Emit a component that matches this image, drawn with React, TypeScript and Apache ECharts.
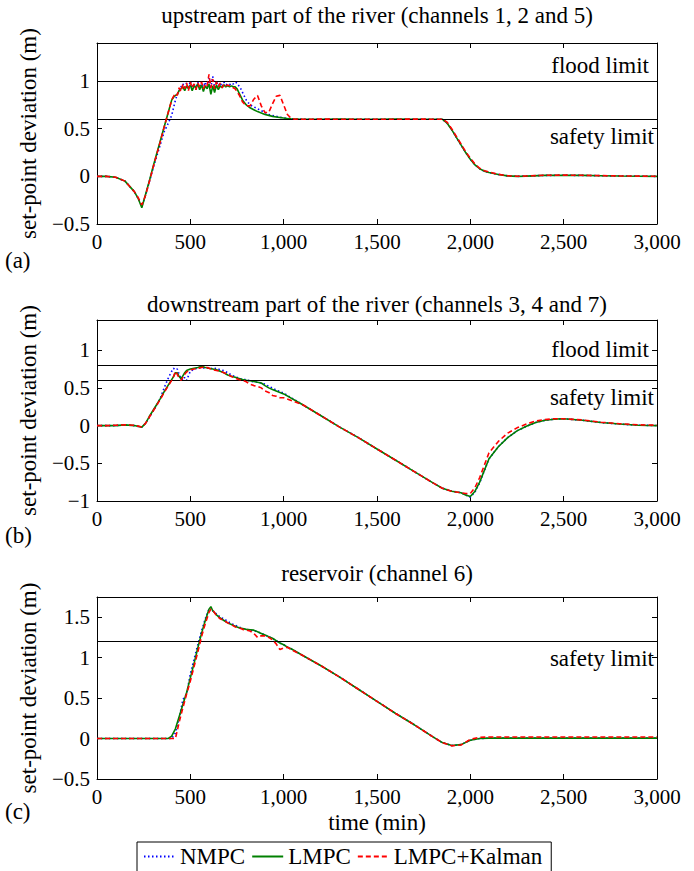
import React, { useEffect, useRef } from "react";
import * as echarts from "echarts";

// ---------- panel (a): upstream ----------
const T_A = [0, 50, 100, 150, 200, 220, 240, 260, 280, 300, 320, 340, 360, 380,
  400, 410, 420, 430, 440, 450, 460, 470, 480, 490, 500, 510, 520, 530, 540, 550, 560, 570, 580, 590, 600,
  610, 620, 630, 640, 650, 660, 670, 680, 690, 700, 710, 720, 730, 740, 750, 760, 770, 780,
  800, 820, 840, 860, 880, 900, 920, 940, 960, 980, 1000, 1020, 1040, 1060, 1080, 1100,
  1150, 1200, 1300, 1400, 1500, 1600, 1700, 1800,
  1850, 1875, 1900, 1925, 1950, 1975, 2000, 2025, 2050, 2075, 2100,
  2150, 2200, 2250, 2300,
  2400, 2500, 2600, 2700, 2800, 2900, 3000];
const NMPC_A = [0, 0, -0.01, -0.05, -0.16, -0.23, -0.31, -0.2, -0.06, 0.08, 0.21, 0.34, 0.47, 0.55,
  0.64, 0.72, 0.8, 0.86, 0.9, 0.94, 0.97, 0.93, 0.98, 0.92, 1.0, 0.93, 0.97, 0.91, 0.99, 0.93, 0.97, 0.94, 0.99, 0.92, 1.03,
  0.94, 1.05, 0.93, 1.0, 0.95, 0.98, 0.94, 0.99, 0.96, 0.97, 0.96, 0.98, 0.97, 0.99, 0.98, 0.95, 0.92, 0.88,
  0.8, 0.75, 0.73, 0.71, 0.69, 0.67, 0.65, 0.64, 0.63, 0.62, 0.614, 0.609, 0.605, 0.603, 0.601, 0.6,
  0.6, 0.6, 0.6, 0.6, 0.6, 0.6, 0.6, 0.6,
  0.6, 0.56, 0.49, 0.41, 0.33, 0.25, 0.18, 0.12, 0.08, 0.055, 0.04,
  0.02, 0.005, 0, 0.003,
  0.01, 0.012, 0.01, 0.007, 0.004, 0.002, 0];
const LMPC_A = [0, 0, -0.01, -0.05, -0.16, -0.23, -0.33, -0.19, -0.05, 0.1, 0.24, 0.38, 0.52, 0.66,
  0.8, 0.83, 0.85, 0.86, 0.9, 0.92, 0.94, 0.9, 0.95, 0.92, 0.96, 0.9, 0.95, 0.93, 0.97, 0.91, 0.96, 0.89, 0.95, 0.92, 0.97,
  0.86, 0.95, 0.88, 0.96, 0.91, 0.95, 0.93, 0.96, 0.94, 0.95, 0.94, 0.95, 0.94, 0.94, 0.92, 0.88, 0.84, 0.8,
  0.75, 0.72, 0.7, 0.68, 0.665, 0.65, 0.64, 0.63, 0.624, 0.618, 0.612, 0.608, 0.605, 0.603, 0.601, 0.6,
  0.6, 0.6, 0.601, 0.6, 0.599, 0.601, 0.6, 0.6,
  0.6, 0.56, 0.49, 0.41, 0.33, 0.25, 0.18, 0.12, 0.08, 0.055, 0.04,
  0.02, 0.005, 0, 0.003,
  0.01, 0.012, 0.01, 0.007, 0.004, 0.002, 0];
const KAL_A = [0, 0, -0.01, -0.05, -0.16, -0.22, -0.3, -0.2, -0.06, 0.09, 0.23, 0.37, 0.52, 0.66,
  0.8, 0.84, 0.87, 0.85, 0.93, 0.89, 0.97, 0.92, 0.98, 0.9, 0.99, 0.93, 0.97, 0.91, 0.98, 0.94, 0.99, 0.92, 0.97, 0.95, 1.07,
  0.93, 1.02, 0.92, 0.99, 0.94, 0.98, 0.93, 0.97, 0.95, 0.96, 0.95, 0.94, 0.93, 0.92, 0.89, 0.86, 0.82, 0.78,
  0.74, 0.74, 0.81, 0.85, 0.74, 0.67, 0.67, 0.76, 0.84, 0.85, 0.75, 0.65, 0.61, 0.6, 0.602, 0.6,
  0.6, 0.601, 0.6, 0.599, 0.6, 0.6, 0.601, 0.6,
  0.6, 0.57, 0.5, 0.42, 0.34, 0.26, 0.19, 0.13, 0.085, 0.06, 0.045,
  0.022, 0.006, 0.001, 0.004,
  0.012, 0.013, 0.011, 0.008, 0.005, 0.003, 0.001];

// ---------- panel (b): downstream ----------
const T_B = [0, 50, 100, 150, 200, 240,
  260, 280, 300, 320, 340, 360, 380, 400,
  410, 420, 430, 440, 450, 460, 470, 480, 490, 500,
  520, 540, 560, 580, 600, 620, 640, 660, 680, 700, 720, 740, 760, 780, 800, 820, 840, 860, 880, 900, 920, 940, 960, 980, 1000,
  1100, 1200, 1300, 1400, 1500, 1600, 1700, 1800,
  1850, 1900, 1950, 1975, 2000, 2025, 2050,
  2100, 2150, 2200, 2250, 2300, 2350, 2400, 2450, 2500,
  2600, 2700, 2800, 2900, 3000];
const NMPC_B = [0, 0, 0, 0.01, 0, -0.02,
  0.03, 0.11, 0.19, 0.27, 0.37, 0.5, 0.62, 0.72,
  0.76, 0.74, 0.75, 0.68, 0.62, 0.6, 0.64, 0.6, 0.66, 0.72,
  0.75, 0.76, 0.77, 0.76, 0.77, 0.75, 0.76, 0.74, 0.73, 0.7, 0.67, 0.65, 0.63, 0.61, 0.61, 0.59, 0.58, 0.575, 0.565, 0.55, 0.52, 0.5, 0.47, 0.45, 0.43,
  0.28, 0.13, -0.02, -0.16, -0.31, -0.46, -0.61, -0.76,
  -0.83, -0.87, -0.89, -0.92, -0.95, -0.88, -0.76,
  -0.44, -0.28, -0.16, -0.07, -0.01, 0.04, 0.07, 0.085, 0.09,
  0.07, 0.04, 0.02, 0.005, 0];
const LMPC_B = [0, 0, 0, 0.01, 0, -0.02,
  0.03, 0.12, 0.2, 0.28, 0.36, 0.45, 0.53, 0.61,
  0.65, 0.7, 0.7, 0.65, 0.62, 0.66, 0.7, 0.73, 0.74, 0.75,
  0.76, 0.77, 0.785, 0.77, 0.76, 0.75, 0.74, 0.72, 0.7, 0.67, 0.655, 0.64, 0.625, 0.61, 0.6, 0.595, 0.585, 0.575, 0.565, 0.53, 0.5, 0.48, 0.46, 0.44, 0.42,
  0.28, 0.13, -0.02, -0.16, -0.31, -0.46, -0.61, -0.76,
  -0.83, -0.87, -0.89, -0.92, -0.94, -0.87, -0.75,
  -0.44, -0.28, -0.16, -0.07, -0.01, 0.04, 0.07, 0.085, 0.09,
  0.07, 0.04, 0.02, 0.005, 0];
const KAL_B = [0, 0, 0.005, 0.01, 0.005, -0.02,
  0.03, 0.11, 0.19, 0.27, 0.35, 0.44, 0.52, 0.6,
  0.65, 0.72, 0.68, 0.63, 0.6, 0.64, 0.68, 0.71, 0.73, 0.74,
  0.75, 0.76, 0.77, 0.78, 0.76, 0.74, 0.73, 0.72, 0.7, 0.68, 0.65, 0.63, 0.61, 0.6, 0.58, 0.55, 0.53, 0.52, 0.5, 0.46, 0.44, 0.4, 0.39, 0.37, 0.37,
  0.28, 0.13, -0.02, -0.16, -0.31, -0.46, -0.61, -0.76,
  -0.83, -0.87, -0.89, -0.9, -0.9, -0.82, -0.69,
  -0.36, -0.21, -0.1, -0.03, 0.02, 0.06, 0.08, 0.09, 0.09,
  0.075, 0.045, 0.025, 0.01, 0.005];

// ---------- panel (c): reservoir ----------
const T_C = [0, 100, 200, 300, 380,
  400, 420, 440, 460, 480, 500, 520, 540, 560, 580, 600,
  610,
  620, 640, 660, 680, 700, 720, 740, 760, 780, 800, 820, 840, 860, 880, 900, 920, 940, 960, 980, 1000, 1020, 1040,
  1100, 1200, 1300, 1400, 1500, 1600, 1700, 1800,
  1850, 1900, 1950, 2000, 2050, 2100,
  2200, 2400, 2600, 2800, 3000];
const NMPC_C = [0, 0, 0, 0, 0,
  0, 0.07, 0.25, 0.48, 0.55, 0.8, 0.98, 1.16, 1.33, 1.48, 1.6,
  1.62,
  1.58, 1.54, 1.5, 1.48, 1.45, 1.42, 1.4, 1.38, 1.36, 1.35, 1.34, 1.335, 1.32, 1.3, 1.28, 1.26, 1.235, 1.21, 1.18, 1.16, 1.13, 1.11,
  1.03, 0.9, 0.76, 0.61, 0.46, 0.31, 0.17, 0.02,
  -0.05, -0.085, -0.075, -0.02, 0, 0.005,
  0.005, 0.005, 0.005, 0.005, 0.005];
const LMPC_C = [0, 0, 0, 0, 0,
  0.03, 0.12, 0.27, 0.42, 0.57, 0.75, 0.93, 1.12, 1.3, 1.46, 1.6,
  1.63,
  1.58, 1.53, 1.49, 1.46, 1.43, 1.41, 1.39, 1.37, 1.36, 1.35, 1.345, 1.34, 1.32, 1.3, 1.28, 1.26, 1.24, 1.21, 1.18, 1.16, 1.13, 1.11,
  1.03, 0.9, 0.76, 0.61, 0.46, 0.31, 0.17, 0.02,
  -0.05, -0.085, -0.075, -0.02, 0, 0.005,
  0.005, 0.005, 0.005, 0.005, 0.005];
const KAL_C = [0, 0, 0, 0, 0,
  0, 0, 0.2, 0.38, 0.55, 0.71, 0.89, 1.07, 1.26, 1.42, 1.56,
  1.6,
  1.59, 1.52, 1.48, 1.46, 1.43, 1.41, 1.38, 1.37, 1.35, 1.34, 1.33, 1.3, 1.25, 1.27, 1.27, 1.25, 1.22, 1.17, 1.1, 1.12, 1.13, 1.1,
  1.03, 0.9, 0.76, 0.61, 0.46, 0.31, 0.17, 0.02,
  -0.05, -0.09, -0.08, -0.01, 0.015, 0.02,
  0.02, 0.02, 0.02, 0.02, 0.02];

const TITLES = [
  "upstream part of the river (channels 1, 2 and 5)",
  "downstream part of the river (channels 3, 4 and 7)",
  "reservoir (channel 6)",
];
const PANEL_TAGS = ["(a)", "(b)", "(c)"];
const SERIES_NAMES = ["NMPC", "LMPC", "LMPC+Kalman"];
const FLOOD_LIMITS = [1, 0.8, null];
const SAFETY_LIMITS = [0.6, 0.6, 1.2];
const Y_MIN = [-0.5, -1, -0.5];
const Y_MAX = [1.4, 1.4, 1.75];
const X_TICK_STEP = 500;

const FONT = "'Liberation Serif', 'Times New Roman', serif";
const FS = 23; // text
const FT = 21; // tick labels

const GRIDS = [
  { left: 97, top: 43, width: 560, height: 181 },
  { left: 97, top: 320, width: 560, height: 181 },
  { left: 97, top: 597, width: 560, height: 182 },
];

const fmt = (v: number) => (v < 0 ? "\u2212" : "") + Math.abs(v).toLocaleString("en-US");

const zip = (t: number[], v: number[]) => t.map((x, i) => [x, v[i]]);

export default function App() {
  const ref = useRef<HTMLDivElement>(null);
  useEffect(() => {
    if (!ref.current) return;
    const chart = echarts.init(ref.current, null, { renderer: "svg" });
    const panels = [
      { t: T_A, s: [NMPC_A, LMPC_A, KAL_A] },
      { t: T_B, s: [NMPC_B, LMPC_B, KAL_B] },
      { t: T_C, s: [NMPC_C, LMPC_C, KAL_C] },
    ];
    const black = "#000";
    const xAxis: any[] = [];
    const yAxis: any[] = [];
    GRIDS.forEach((_, i) => {
      const base = {
        gridIndex: i,
        type: "value",
        min: 0,
        max: 3000,
        interval: X_TICK_STEP,
        axisLine: { onZero: false, lineStyle: { color: black, width: 1 } },
        axisTick: { inside: true, length: 5, lineStyle: { color: black } },
        splitLine: { show: false },
      };
      xAxis.push({
        ...base,
        position: "bottom",
        axisLabel: { formatter: fmt, color: black, fontSize: FT, fontFamily: FONT, margin: 7 },
        ...(i === 2
          ? {
              name: "time (min)",
              nameLocation: "middle",
              nameGap: 32,
              nameTextStyle: { color: black, fontSize: FS, fontFamily: FONT },
            }
          : {}),
      });
      xAxis.push({ ...base, position: "top", axisLabel: { show: false } });
      const ybase = {
        gridIndex: i,
        type: "value",
        min: Y_MIN[i],
        max: Y_MAX[i],
        interval: 0.5,
        axisLine: { onZero: false, lineStyle: { color: black, width: 1 } },
        axisTick: { inside: true, length: 5, lineStyle: { color: black } },
        splitLine: { show: false },
      };
      yAxis.push({
        ...ybase,
        position: "left",
        name: "set-point deviation (m)",
        nameLocation: "middle",
        nameGap: 57,
        nameTextStyle: { color: black, fontSize: FS, fontFamily: FONT },
        axisLabel: {
          formatter: fmt,
          color: black,
          fontSize: FT,
          fontFamily: FONT,
          margin: 7,
          showMaxLabel: false,
        },
      });
      yAxis.push({ ...ybase, position: "right", axisLabel: { show: false } });
    });

    const styles = [
      { color: "#0000ff", type: [1.5, 2.5], width: 1.6 },
      { color: "#008000", type: "solid", width: 1.6 },
      { color: "#ff0000", type: [5, 3], width: 1.6 },
    ];

    const series: any[] = [];
    panels.forEach((p, i) => {
      p.s.forEach((vals, k) => {
        series.push({
          name: SERIES_NAMES[k],
          type: "line",
          xAxisIndex: i * 2,
          yAxisIndex: i * 2,
          data: zip(p.t, vals),
          showSymbol: false,
          symbol: "none",
          color: styles[k].color,
          itemStyle: { color: styles[k].color, opacity: 0 },
          lineStyle: { color: styles[k].color, type: styles[k].type, width: styles[k].width },
          z: 3 + k,
        });
      });
      const ml: any[] = [];
      if (FLOOD_LIMITS[i] !== null) {
        ml.push({
          yAxis: FLOOD_LIMITS[i],
          label: {
            show: true,
            formatter: "flood limit",
            position: "insideEndTop",
            distance: [8, 4],
            color: black,
            fontSize: FS,
            fontFamily: FONT,
          },
        });
      }
      ml.push({
        yAxis: SAFETY_LIMITS[i],
        label: {
          show: true,
          formatter: "safety limit",
          position: "insideEndBottom",
          distance: [3, 6],
          color: black,
          fontSize: FS,
          fontFamily: FONT,
        },
      });
      series.push({
        type: "line",
        xAxisIndex: i * 2,
        yAxisIndex: i * 2,
        data: [],
        silent: true,
        z: 2,
        markLine: {
          silent: true,
          symbol: ["none", "none"],
          lineStyle: { color: black, type: "solid", width: 1 },
          emphasis: { disabled: true },
          data: ml,
        },
      });
    });

    const titleCenters = [16, 305, 574];
    const tagTops = [249, 524, 800];

    chart.setOption({
      animation: false,
      backgroundColor: "#fff",
      title: TITLES.map((t, i) => ({
        text: t,
        left: 377,
        top: titleCenters[i] - 12,
        textAlign: "center",
        padding: 0,
        textStyle: { color: black, fontSize: FS, fontWeight: "normal", fontFamily: FONT },
      })),
      grid: GRIDS.map((g) => ({ ...g, containLabel: false })),
      xAxis,
      yAxis,
      series,
      legend: {
        data: SERIES_NAMES,
        left: 137,
        top: 842,
        orient: "horizontal",
        borderColor: black,
        borderWidth: 1,
        borderRadius: 0,
        padding: [3, 9, 6, 6],
        itemGap: 6,
        itemWidth: 31,
        itemHeight: 14,
        itemStyle: { opacity: 0 },
        textStyle: { color: black, fontSize: FS, fontFamily: FONT },
      },
      graphic: PANEL_TAGS.map((t, i) => ({
        type: "text",
        left: 5,
        top: tagTops[i],
        style: { text: t, fill: black, fontSize: FS, fontFamily: FONT },
      })),
    });
    return () => chart.dispose();
  }, []);
  return (
    <div
      ref={ref}
      style={{ position: "fixed", left: 0, top: 0, width: 694, height: 871, background: "#fff" }}
    />
  );
}
